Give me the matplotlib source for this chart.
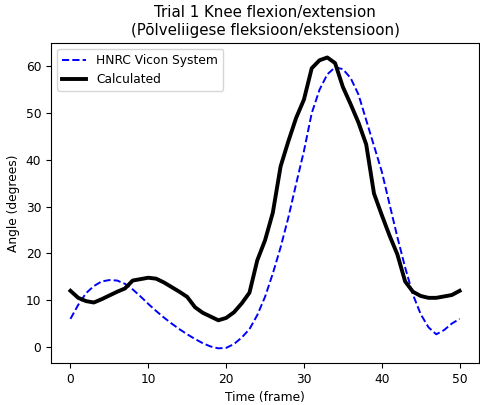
import matplotlib
matplotlib.use("Agg")
import matplotlib.pyplot as plt

# ── DATA ──────────────────────────────────────────────────────────────────────

frames = list(range(51))

vicon = [6.0, 9.0, 11.5, 13.0, 14.0, 14.3, 14.2, 13.5, 12.3, 10.8,
         9.2, 7.7, 6.3, 5.0, 3.8, 2.7, 1.7, 0.8, 0.1, -0.3,
         -0.2, 0.6, 2.0, 3.8, 6.8, 10.7, 15.7, 21.3, 27.7, 34.9,
         41.9, 50.0, 55.0, 58.3, 59.8, 59.4, 57.5, 54.0, 48.5, 43.0,
         37.5, 30.5, 23.5, 17.0, 11.2, 7.0, 4.2, 2.7, 3.6, 5.0,
         6.0]

calculated = [12.0, 10.5, 9.8, 9.5, 10.2, 11.0, 11.8, 12.5, 14.2, 14.5,
              14.8, 14.6, 13.8, 12.8, 11.8, 10.7, 8.5, 7.3, 6.5, 5.7,
              6.2, 7.4, 9.3, 11.6, 18.5, 22.8, 28.7, 38.6, 44.0, 49.0,
              52.9, 59.6, 61.3, 61.9, 60.7, 55.6, 51.9, 48.0, 43.3, 32.8,
              28.2, 23.8, 19.8, 14.0, 11.8, 10.9, 10.5, 10.5, 10.8, 11.1,
              12.0]

# ── PLOT ──────────────────────────────────────────────────────────────────────

fig, ax = plt.subplots(figsize=(4.81, 4.05), dpi=100)
fig.subplots_adjust(left=0.106, right=0.996, top=0.894, bottom=0.104)

ax.plot(frames, vicon, color='blue', linestyle='--', linewidth=1.4, label='HNRC Vicon System')
ax.plot(frames, calculated, color='black', linewidth=2.8, label='Calculated')

ax.set_title("Trial 1 Knee flexion/extension\n(Põlveliigese fleksioon/ekstensioon)", fontsize=10.8)
ax.set_xlabel("Time (frame)", fontsize=8.8)
ax.set_ylabel("Angle (degrees)", fontsize=8.8)
ax.tick_params(labelsize=8.8)
ax.legend(loc='upper left', fontsize=8.8)

fig.savefig("out.png", dpi=100)
